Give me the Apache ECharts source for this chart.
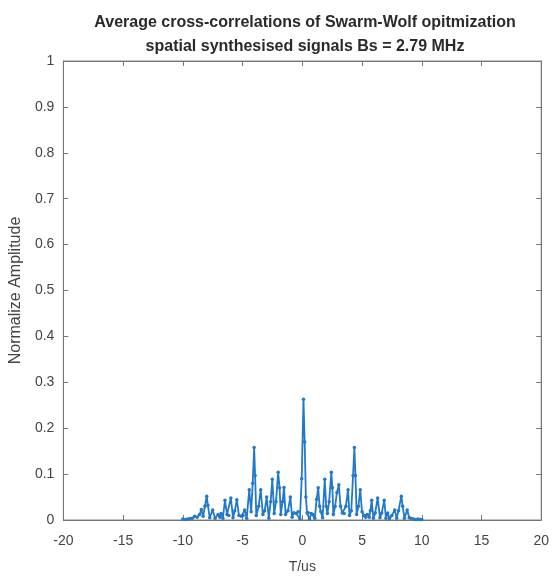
<!DOCTYPE html>
<html><head><meta charset="utf-8">
<script src="https://cdn.jsdelivr.net/npm/echarts@6/dist/echarts.min.js"></script>
<style>html,body{margin:0;padding:0;background:#fff}#c{width:552px;height:579px}</style>
</head><body><div id="c"></div>
<script>
const titleLines = ["Average cross-correlations of Swarm-Wolf opitmization", "spatial synthesised signals Bs = 2.79 MHz"];
const xAxisName = "T/us";
const yAxisName = "Normalize Amplitude";
const tValues = [-10,-9.8,-9.6,-9.4,-9.2,-9.0,-8.8,-8.6,-8.45,-8.3,-8.15,-8.0,-7.9,-7.75,-7.5,-7.3,-7.05,-6.9,-6.8,-6.65,-6.47,-6.3,-6.15,-5.98,-5.8,-5.65,-5.48,-5.3,-5.1,-4.95,-4.82,-4.65,-4.44,-4.28,-4.15,-4.03,-3.95,-3.85,-3.65,-3.48,-3.3,-3.15,-2.98,-2.8,-2.65,-2.51,-2.35,-2.2,-2.02,-1.9,-1.8,-1.65,-1.53,-1.4,-1.2,-1.0,-0.85,-0.7,-0.5,-0.35,-0.2,-0.05,0.1,0.2,0.3,0.4,0.5,0.6,0.75,0.9,1.05,1.2,1.33,1.45,1.55,1.7,1.88,2.0,2.1,2.25,2.43,2.52,2.6,2.75,2.9,3.06,3.2,3.35,3.5,3.65,3.83,3.95,4.1,4.25,4.36,4.45,4.55,4.7,4.85,5.0,5.15,5.3,5.45,5.6,5.7,5.81,5.95,6.1,6.31,6.5,6.65,6.86,7.0,7.15,7.3,7.5,7.74,7.9,8.05,8.29,8.4,8.55,8.78,8.95,9.1,9.3,9.5,9.7,9.9,10.0];
const ampValues = [0.002,0.001,0.002,0.003,0.004,0.008,0.006,0.012,0.023,0.008,0.03,0.052,0.032,0.005,0.022,0.004,0.012,0.006,0.014,0.004,0.043,0.012,0.01,0.048,0.005,0.02,0.044,0.01,0.008,0.01,0.022,0.004,0.066,0.018,0.08,0.158,0.097,0.01,0.03,0.066,0.012,0.02,0.05,0.004,0.04,0.089,0.014,0.04,0.104,0.07,0.012,0.04,0.071,0.012,0.02,0.05,0.006,0.016,0.014,0.018,0.002,0.09,0.263,0.17,0.05,0.015,0.016,0.002,0.014,0.012,0.004,0.045,0.07,0.03,0.018,0.005,0.089,0.03,0.014,0.04,0.104,0.07,0.012,0.03,0.06,0.077,0.03,0.015,0.014,0.03,0.066,0.01,0.02,0.097,0.158,0.097,0.012,0.03,0.066,0.018,0.01,0.006,0.012,0.006,0.02,0.043,0.004,0.015,0.048,0.005,0.015,0.043,0.004,0.015,0.003,0.01,0.022,0.004,0.02,0.052,0.03,0.004,0.022,0.005,0.004,0.002,0.001,0.002,0.001,0.001];

const pts = tValues.map((t, i) => [t, ampValues[i]]);
const font = "'Liberation Sans', Arial, sans-serif";
const chart = echarts.init(document.getElementById('c'));
const tickStyle = {show: true, inside: true, length: 5, lineStyle: {color: '#777'}};
const lineStyle = {show: true, onZero: false, lineStyle: {color: '#777'}};
chart.setOption({
  animation: false,
  title: {
    text: titleLines.join('\n'), left: 300, top: 6, textAlign: 'center',
    textStyle: {fontFamily: font, fontSize: 16, fontWeight: 'bold', color: '#2a2a2a', lineHeight: 24}
  },
  grid: {left: 57, right: 9, top: 61, bottom: 54, show: true, borderColor: '#888', borderWidth: 1},
  xAxis: [{
    type: 'value', min: -20, max: 20, interval: 5,
    name: xAxisName, nameLocation: 'middle', nameGap: 40,
    nameTextStyle: {fontFamily: font, fontSize: 14, color: '#444'},
    axisLine: lineStyle, axisTick: tickStyle,
    axisLabel: {fontFamily: font, fontSize: 14, color: '#444', margin: 14},
    splitLine: {show: false}
  }, {
    type: 'value', min: -20, max: 20, interval: 5, position: 'top',
    axisLine: lineStyle, axisTick: tickStyle,
    axisLabel: {show: false}, splitLine: {show: false}
  }],
  yAxis: [{
    type: 'value', min: 0, max: 1, interval: 0.1,
    name: yAxisName, nameLocation: 'middle', nameGap: 36,
    nameTextStyle: {fontFamily: font, fontSize: 16, color: '#444'},
    axisLine: lineStyle, axisTick: tickStyle,
    axisLabel: {fontFamily: font, fontSize: 14, color: '#444', margin: 9,
      formatter: v => String(Math.round(v * 10) / 10)},
    splitLine: {show: false}
  }, {
    type: 'value', min: 0, max: 1, interval: 0.1, position: 'right',
    axisLine: lineStyle, axisTick: tickStyle,
    axisLabel: {show: false}, splitLine: {show: false}
  }],
  series: [{
    type: 'line', data: pts, xAxisIndex: 0, yAxisIndex: 0,
    symbol: 'circle', symbolSize: 3.5, showSymbol: true,
    lineStyle: {color: '#2379c9', width: 1.8},
    itemStyle: {color: '#2379c9'}
  }]
});
</script></body></html>
